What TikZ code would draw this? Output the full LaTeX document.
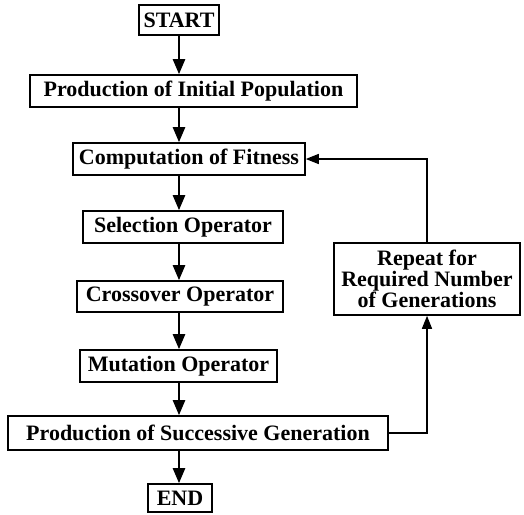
\documentclass[tikz,border=0pt]{standalone}
\usepackage{fontspec}
\setmainfont{Liberation Serif}
\usetikzlibrary{arrows.meta, positioning}
\tikzset{
  block/.style={rectangle, draw=black, line width=1.6pt, inner sep=2pt, minimum height=32pt, align=center, font=\fontsize{22}{21}\selectfont\bfseries},
  flow/.style={-{Triangle[length=15pt,width=12pt]}, line width=2.4pt},
  back/.style={-{Triangle[length=13pt,width=10pt]}, line width=1.4pt}
}

\begin{document}
\begin{tikzpicture}[x=1pt, y=-1pt]
  \useasboundingbox (0,0) rectangle (524,514);
  % main steps
  \node[block, minimum width=80pt, minimum height=30pt] (start) at (179,20) {START};
  \node[block, minimum width=327pt] (initpop) at (193.5,91) {Production of Initial Population};
  \node[block, minimum width=232pt] (fitness) at (189,159) {Computation of Fitness};
  \node[block, minimum width=200pt] (select) at (183,227) {Selection Operator};
  \node[block, minimum width=206pt, minimum height=31pt] (cross) at (180,296.5) {Crossover Operator};
  \node[block, minimum width=197pt] (mutate) at (178.5,366) {Mutation Operator};
  \node[block, minimum width=380pt, minimum height=34pt] (nextgen) at (198,433) {Production of Successive Generation};
  \node[block, minimum width=64pt, minimum height=28pt] (finish) at (180,498) {END};
  % loop box
  \node[block, minimum width=186pt, minimum height=72pt] (repeat) at (427,279) {Repeat for\\Required Number\\of Generations};

  % flow arrows
  \draw[flow] (start) -- (start |- initpop.north);
  \draw[flow] (initpop.south -| start) -- (fitness.north -| start);
  \draw[flow] (fitness.south -| start) -- (select.north -| start);
  \draw[flow] (select.south -| start) -- (cross.north -| start);
  \draw[flow] (cross.south -| start) -- (mutate.north -| start);
  \draw[flow] (mutate.south -| start) -- (nextgen.north -| start);
  \draw[flow] (nextgen.south -| start) -- (finish.north -| start);

  % feedback loop
  \draw[back] (nextgen.east) -| (repeat.south);
  \draw[back] (repeat.north) |- (fitness.east);
\end{tikzpicture}
\end{document}
